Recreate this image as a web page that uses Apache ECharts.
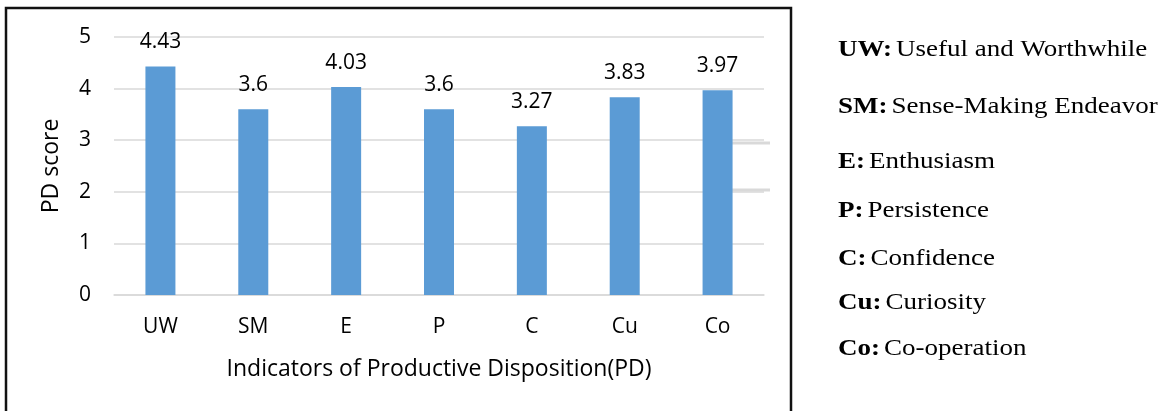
<!DOCTYPE html>
<html>
<head>
<meta charset="utf-8">
<script src="https://cdn.jsdelivr.net/npm/echarts@6/dist/echarts.min.js"></script>
<style>
  html, body { margin: 0; padding: 0; background: #fff; }
  #chart { width: 1168px; height: 411px; }
</style>
</head>
<body>
<div id="chart"></div>
<script>
const categories = ["UW", "SM", "E", "P", "C", "Cu", "Co"]
const scores = [4.43, 3.6, 4.03, 3.6, 3.27, 3.83, 3.97]
const legendKeys = ["UW:", "SM:", "E:", "P:", "C:", "Cu:", "Co:"]
const legendNames = ["Useful and Worthwhile", "Sense-Making Endeavor", "Enthusiasm", "Persistence", "Confidence", "Curiosity", "Co-operation"]
const legendRows = [50, 107, 162, 211, 259, 303, 349]

const chart = echarts.init(document.getElementById("chart"), null, { renderer: "canvas" })
const sans = "Open Sans"
const ink = "#000"

// the key text on the right is a bit wider than a plain serif, so stretch it
const legendText = legendKeys.map((key, i) => ({
  type: "text",
  x: 838,
  y: legendRows[i],
  scaleX: 1.2,
  style: {
    text: `{b|${key}} {n|${legendNames[i]}}`,
    verticalAlign: "middle",
    rich: {
      b: { fontFamily: "Liberation Serif", fontWeight: "bold", fontSize: 22.5, fill: ink },
      n: { fontFamily: "Liberation Serif", fontSize: 22.5, fill: ink }
    }
  }
}))

chart.setOption({
  animation: false,
  grid: { left: 114, right: 404, top: 37, bottom: 116 },
  xAxis: {
    type: "category",
    data: categories,
    name: "Indicators of Productive Disposition(PD)",
    nameLocation: "middle",
    nameGap: 63,
    nameTextStyle: { fontFamily: sans, fontSize: 23, color: ink },
    axisLine: { lineStyle: { color: "#D9D9D9", width: 1.5 } },
    axisTick: { show: false },
    axisLabel: { fontFamily: sans, fontSize: 21, color: ink, margin: 22 }
  },
  yAxis: {
    type: "value",
    min: 0,
    max: 5,
    interval: 1,
    name: "PD score",
    nameLocation: "middle",
    nameGap: 51,
    nameTextStyle: { fontFamily: sans, fontSize: 23, color: ink },
    axisLine: { show: false },
    axisTick: { show: false },
    axisLabel: { fontFamily: sans, fontSize: 21, color: ink, margin: 23 },
    splitLine: { lineStyle: { color: "#D9D9D9", width: 1.5 } }
  },
  graphic: [
    {
      type: "rect",
      shape: { x: 6, y: 8, width: 785, height: 420 },
      style: { fill: "none", stroke: "#111", lineWidth: 2.5 }
    },
    {
      type: "line",
      shape: { x1: 732, y1: 143, x2: 770, y2: 143 },
      style: { stroke: "#D9D9D9", lineWidth: 3 }
    },
    {
      type: "line",
      shape: { x1: 732, y1: 190, x2: 770, y2: 190 },
      style: { stroke: "#D9D9D9", lineWidth: 3 }
    },
    ...legendText
  ],
  series: [{
    type: "bar",
    data: scores,
    barWidth: 30,
    itemStyle: { color: "#5B9BD5" },
    label: {
      show: true,
      position: "top",
      distance: 14,
      fontFamily: sans,
      fontSize: 21,
      color: ink
    }
  }]
})
</script>
</body>
</html>
